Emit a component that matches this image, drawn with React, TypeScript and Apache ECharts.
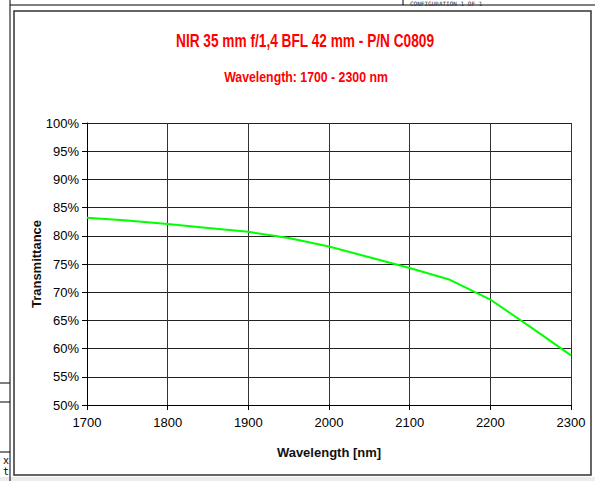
import React, { useEffect, useRef } from "react";
import * as echarts from "echarts";

const wavelengths = [1700, 1750, 1800, 1850, 1900, 1950, 2000, 2050, 2100, 2150, 2200, 2250, 2300];
const transmittance = [83.2, 82.7, 82.1, 81.4, 80.7, 79.6, 78.1, 76.2, 74.3, 72.2, 68.7, 63.8, 58.8];
const yTicks = { min: 50, max: 100, step: 5 };
const xTicks = { min: 1700, max: 2300, step: 100 };
const titleText = "NIR 35 mm f/1,4 BFL 42 mm - P/N C0809";
const subtitleText = "Wavelength: 1700 - 2300 nm";
const xName = "Wavelength [nm]";
const yName = "Transmittance";

const FONT = "'Liberation Sans', Arial, sans-serif";

export default function App() {
  const ref = useRef<HTMLDivElement>(null);
  useEffect(() => {
    if (!ref.current) return;
    const chart = echarts.init(ref.current, undefined, { renderer: "svg" });
    const data = wavelengths.map((w, i) => [w, transmittance[i]]);
    chart.setOption({
      animation: false,
      backgroundColor: "#ffffff",
      textStyle: { fontFamily: FONT },
      grid: { left: 87, right: 24, top: 123, bottom: 76, containLabel: false },
      xAxis: {
        type: "value",
        min: xTicks.min,
        max: xTicks.max,
        interval: xTicks.step,
        name: xName,
        nameLocation: "middle",
        nameGap: 41,
        nameMoveOverlap: false,
        nameTextStyle: { fontWeight: "bold", fontSize: 13, color: "#111", fontFamily: FONT },
        axisLine: { lineStyle: { color: "#000", width: 1 } },
        axisTick: { show: true, length: 5, lineStyle: { color: "#000" } },
        axisLabel: { color: "#000", fontSize: 13, margin: 11, fontFamily: FONT, formatter: (v: number) => String(v) },
        splitLine: { show: true, lineStyle: { color: "#333", width: 1 } },
      },
      yAxis: {
        type: "value",
        min: yTicks.min,
        max: yTicks.max,
        interval: yTicks.step,
        name: yName,
        nameLocation: "middle",
        nameGap: 44,
        nameMoveOverlap: false,
        nameRotate: 90,
        nameTextStyle: { fontWeight: "bold", fontSize: 13, color: "#111", fontFamily: FONT },
        axisLine: { show: true, lineStyle: { color: "#000", width: 1 } },
        axisTick: { show: true, length: 5, lineStyle: { color: "#000" } },
        axisLabel: { color: "#000", fontSize: 13, margin: 8, formatter: "{value}%", fontFamily: FONT },
        splitLine: { show: true, lineStyle: { color: "#222", width: 1 } },
      },
      series: [
        {
          type: "line",
          data,
          smooth: false,
          showSymbol: false,
          lineStyle: { color: "#00ff00", width: 2 },
          z: 5,
        },
      ],
      graphic: [
        { type: "rect", shape: { x: 14, y: 11, width: 577, height: 464 }, style: { fill: "none", stroke: "#333", lineWidth: 1.5 }, silent: true },
        { type: "rect", shape: { x: 0, y: 477, width: 595, height: 4 }, style: { fill: "#ececec" }, silent: true },
        { type: "line", shape: { x1: 10, y1: 0, x2: 10, y2: 481 }, style: { stroke: "#000", lineWidth: 1 }, silent: true },
        { type: "line", shape: { x1: 10, y1: 5, x2: 595, y2: 5 }, style: { stroke: "#000", lineWidth: 1 }, silent: true },
        { type: "line", shape: { x1: 403, y1: 0, x2: 403, y2: 5 }, style: { stroke: "#000", lineWidth: 1 }, silent: true },
        { type: "line", shape: { x1: 0, y1: 383, x2: 10, y2: 383 }, style: { stroke: "#000", lineWidth: 1 }, silent: true },
        { type: "line", shape: { x1: 0, y1: 402, x2: 10, y2: 402 }, style: { stroke: "#000", lineWidth: 1 }, silent: true },
        { type: "line", shape: { x1: 0, y1: 452, x2: 10, y2: 452 }, style: { stroke: "#000", lineWidth: 1 }, silent: true },
        { type: "text", x: 3, y: 455, style: { text: "x", fontSize: 10, fill: "#000", fontFamily: "DejaVu Sans Mono" }, silent: true },
        { type: "text", x: 3, y: 466, style: { text: "t", fontSize: 10, fill: "#000", fontFamily: "DejaVu Sans Mono" }, silent: true },
        { type: "text", x: 410, y: 0, style: { text: "CONFIGURATION 1 OF 1", fontSize: 6, fill: "#333", fontFamily: "DejaVu Sans Mono" }, silent: true },
        {
          type: "text", x: 305, y: 41, scaleX: 0.76,
          style: { text: titleText, fontSize: 18, fontWeight: "bold", fill: "#ff0000", fontFamily: FONT, align: "center", verticalAlign: "middle" },
          silent: true,
        },
        {
          type: "text", x: 306, y: 77, scaleX: 0.88,
          style: { text: subtitleText, fontSize: 14, fontWeight: "bold", fill: "#ff0000", fontFamily: FONT, align: "center", verticalAlign: "middle" },
          silent: true,
        },
      ],
    });
    return () => chart.dispose();
  }, []);
  return <div ref={ref} style={{ position: "absolute", left: 0, top: 0, width: 595, height: 481 }} />;
}
